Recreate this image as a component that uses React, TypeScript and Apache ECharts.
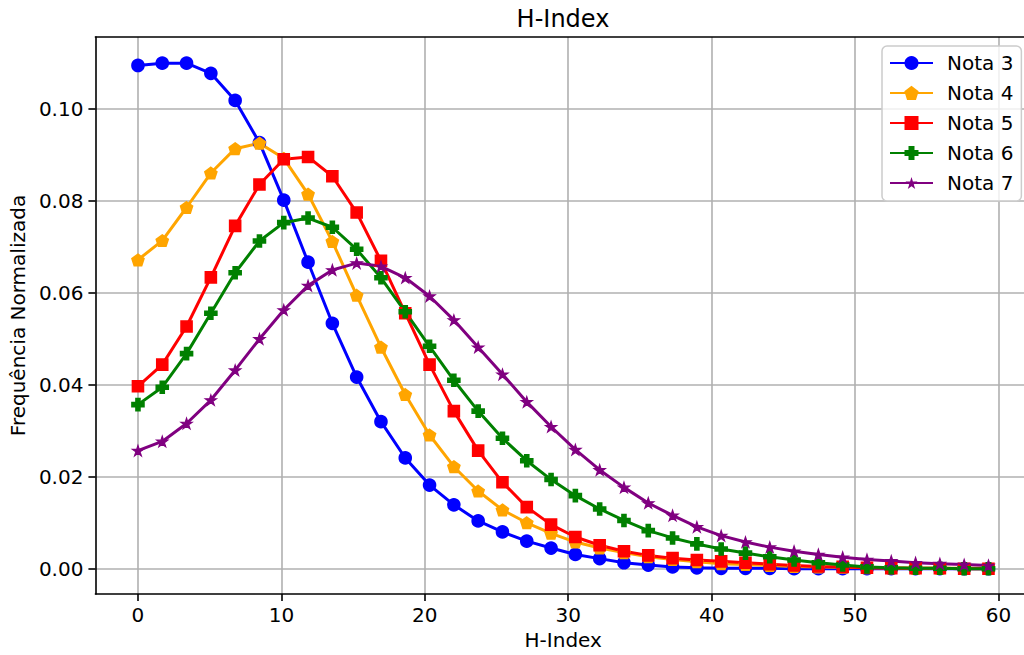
import React, { useEffect, useRef } from "react";
import * as echarts from "echarts";

const xValues = [
  0, 1.6943, 3.3886, 5.0829, 6.7771, 8.4714, 10.1657, 11.86, 13.5543, 15.2486,
  16.9429, 18.6371, 20.3314, 22.0257, 23.72, 25.4143, 27.1086, 28.8029, 30.4971,
  32.1914, 33.8857, 35.58, 37.2743, 38.9686, 40.6629, 42.3571, 44.0514, 45.7457,
  47.44, 49.1343, 50.8286, 52.5229, 54.2171, 55.9114, 57.6057, 59.3,
];

const nota3 = [
  0.1095, 0.11, 0.11, 0.1078, 0.1019, 0.0927, 0.0802, 0.0667, 0.0534, 0.0417,
  0.032, 0.0241, 0.0182, 0.0139, 0.0104, 0.008, 0.006, 0.0045, 0.0031, 0.0022,
  0.0013, 0.0008, 0.0004, 0.0002, 0.0001, 0.0001, 0.0001, 0, 0, 0, 0, 0, 0, 0, 0, 0,
];
const nota4 = [
  0.0672, 0.0714, 0.0786, 0.0861, 0.0914, 0.0926, 0.0893, 0.0815, 0.0712, 0.0595,
  0.0482, 0.0379, 0.0291, 0.0222, 0.0169, 0.0128, 0.01, 0.0077, 0.0058, 0.0045,
  0.0035, 0.0026, 0.002, 0.0015, 0.0011, 0.0009, 0.0007, 0.0005, 0.0004, 0.0003,
  0.0002, 0.0002, 0.0001, 0.0001, 0.0001, 0.0001,
];
const nota5 = [
  0.0397, 0.0444, 0.0527, 0.0634, 0.0746, 0.0836, 0.0891, 0.0896, 0.0854, 0.0775,
  0.067, 0.0556, 0.0444, 0.0343, 0.0257, 0.0188, 0.0134, 0.0096, 0.0069, 0.0051,
  0.0038, 0.0029, 0.0023, 0.0019, 0.0016, 0.0013, 0.001, 0.0007, 0.0005, 0.0004,
  0.0002, 0.0001, 0.0001, 0.0001, 0, 0,
];
const nota6 = [
  0.0357, 0.0395, 0.0468, 0.0556, 0.0644, 0.0713, 0.0753, 0.0763, 0.0743, 0.0695,
  0.0633, 0.0559, 0.0484, 0.041, 0.0343, 0.0284, 0.0235, 0.0194, 0.0159, 0.013,
  0.0105, 0.0083, 0.0067, 0.0054, 0.0043, 0.0034, 0.0026, 0.0019, 0.0013, 0.0008,
  0.0004, 0.0002, 0.0001, 0.0001, 0, 0,
];
const nota7 = [
  0.0257, 0.0277, 0.0316, 0.0367, 0.0432, 0.05, 0.0563, 0.0616, 0.065, 0.0665,
  0.0658, 0.0633, 0.0593, 0.0541, 0.0482, 0.0423, 0.0363, 0.0309, 0.0259, 0.0215,
  0.0177, 0.0143, 0.0116, 0.0091, 0.0072, 0.0058, 0.0047, 0.0038, 0.0031, 0.0025,
  0.002, 0.0017, 0.0013, 0.0011, 0.0009, 0.0007,
];

const seriesNames = ["Nota 3", "Nota 4", "Nota 5", "Nota 6", "Nota 7"];
const seriesColors = ["#0000ff", "#ffa500", "#ff0000", "#008000", "#800080"];
const xTicks = [0, 10, 20, 30, 40, 50, 60];
const yTicks = [0, 0.02, 0.04, 0.06, 0.08, 0.1];

const PENTAGON = "path://M0,-1 L0.951,-0.309 L0.588,0.809 L-0.588,0.809 L-0.951,-0.309 Z";
const PLUS =
  "path://M-1,-3 L1,-3 L1,-1 L3,-1 L3,1 L1,1 L1,3 L-1,3 L-1,1 L-3,1 L-3,-1 L-1,-1 Z";
const STAR =
  "path://M0,-1 L0.2245,-0.309 L0.951,-0.309 L0.363,0.118 L0.588,0.809 L0,0.382 L-0.588,0.809 L-0.363,0.118 L-0.951,-0.309 L-0.2245,-0.309 Z";

const FONT = "DejaVu Sans";

export default function App() {
  const ref = useRef<HTMLDivElement>(null);

  useEffect(() => {
    if (!ref.current) return;
    const chart = echarts.init(ref.current, undefined, { renderer: "svg" });
    const allData = [nota3, nota4, nota5, nota6, nota7];
    const symbols = ["circle", PENTAGON, "rect", PLUS, STAR];
    const sizes = [12, 12, 11, 12, 11];
    const borders = [1.6, 1.6, 1.6, 1.6, 1.2];

    const series = allData.map((vals, k) => ({
      name: seriesNames[k],
      type: "line",
      data: xValues.map((x, i) => [x, vals[i]]),
      symbol: symbols[k],
      symbolSize: sizes[k],
      symbolKeepAspect: true,
      showSymbol: true,
      showAllSymbol: true,
      color: seriesColors[k],
      lineStyle: { color: seriesColors[k], width: 3 },
      itemStyle: {
        color: seriesColors[k],
        borderColor: seriesColors[k],
        borderWidth: borders[k],
      },
      emphasis: { disabled: true },
      silent: true,
      clip: false,
    }));

    const legendData = seriesNames.map((n, k) =>
      k === 4 ? { name: n, itemStyle: { borderWidth: 0 } } : { name: n }
    );

    const axisLineStyle = { color: "#000", width: 1.6 };
    const labelStyle = { fontSize: 20, color: "#000", fontFamily: FONT };

    chart.setOption({
      animation: false,
      backgroundColor: "#ffffff",
      textStyle: { fontFamily: FONT },
      graphic: [
        {
          type: "text",
          x: 563,
          y: 19,
          style: {
            text: "H-Index",
            fontSize: 24,
            fontFamily: FONT,
            fill: "#000",
            align: "center",
            verticalAlign: "middle",
          },
        },
      ],
      grid: { left: 95, top: 37, width: 936, height: 558, containLabel: false },
      legend: {
        orient: "vertical",
        left: 882,
        top: 46,
        padding: [7, 8, 8, 7],
        itemGap: 10,
        itemWidth: 43,
        itemHeight: 15,
        backgroundColor: "rgba(255,255,255,0.8)",
        borderColor: "#cccccc",
        borderWidth: 1.5,
        borderRadius: 5,
        data: legendData,
        textStyle: {
          fontSize: 20,
          color: "#000",
          fontFamily: FONT,
          lineHeight: 20,
          padding: [0, 0, 0, 9],
        },
      },
      xAxis: [
        {
          type: "value",
          position: "bottom",
          min: -2.965,
          max: 62.265,
          splitNumber: 6,
          name: "H-Index",
          nameLocation: "middle",
          nameGap: 36,
          nameTextStyle: labelStyle,
          axisLine: { show: true, onZero: false, lineStyle: axisLineStyle },
          axisTick: {
            show: true,
            inside: false,
            length: 7,
            lineStyle: axisLineStyle,
            customValues: xTicks,
          },
          axisLabel: {
            show: true,
            margin: 11,
            customValues: xTicks,
            formatter: (v: number) => String(Math.round(v)),
            ...labelStyle,
          },
          splitLine: { show: true, lineStyle: { color: "#b0b0b0", width: 1.6 } },
        },
        {
          type: "value",
          position: "top",
          min: -2.965,
          max: 62.265,
          axisLine: { show: true, onZero: false, lineStyle: axisLineStyle },
          axisTick: { show: false },
          axisLabel: { show: false },
          splitLine: { show: false },
        },
      ],
      yAxis: [
        {
          type: "value",
          min: -0.0055,
          max: 0.1157,
          splitNumber: 6,
          name: "Frequência Normalizada",
          nameLocation: "middle",
          nameGap: 63,
          nameRotate: 90,
          nameTextStyle: labelStyle,
          axisLine: { show: true, onZero: false, lineStyle: axisLineStyle },
          axisTick: {
            show: true,
            inside: false,
            length: 7,
            lineStyle: axisLineStyle,
            customValues: yTicks,
          },
          axisLabel: {
            show: true,
            margin: 12,
            customValues: yTicks,
            formatter: (v: number) => v.toFixed(2),
            ...labelStyle,
          },
          splitLine: { show: true, lineStyle: { color: "#b0b0b0", width: 1.6 } },
        },
      ],
      series,
    });

    return () => {
      chart.dispose();
    };
  }, []);

  return (
    <div
      style={{
        position: "fixed",
        left: 0,
        top: 0,
        width: 1024,
        height: 655,
        overflow: "hidden",
        background: "#fff",
      }}
    >
      <div ref={ref} style={{ width: 1040, height: 655 }} />
    </div>
  );
}
